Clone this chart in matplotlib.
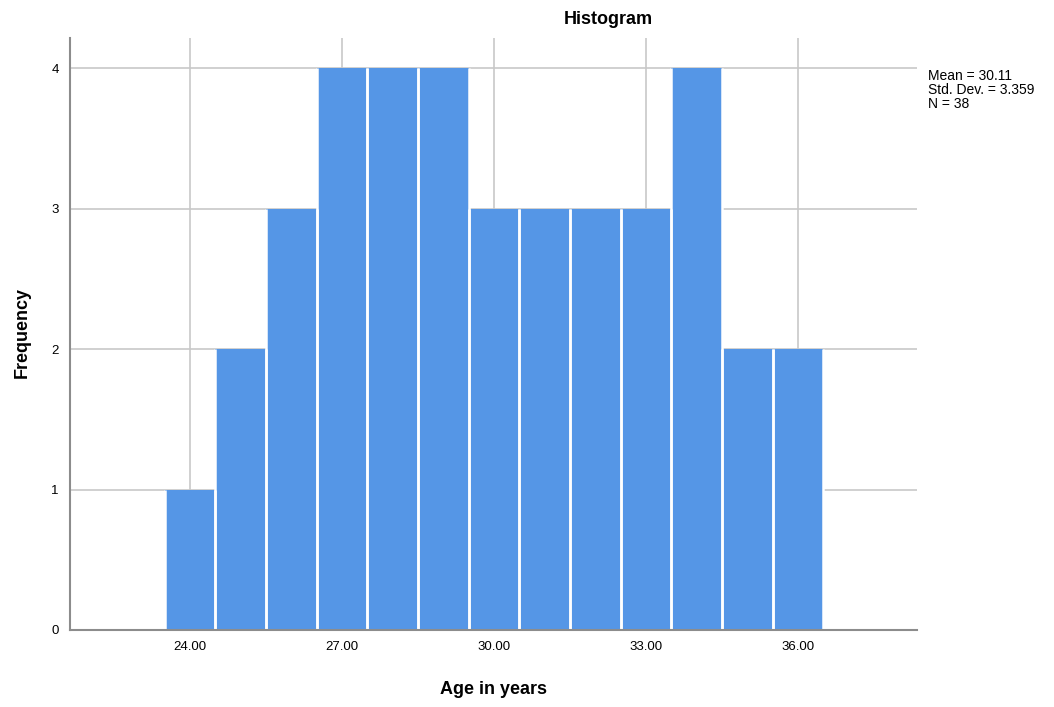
import numpy as np
import matplotlib.pyplot as plt

plt.rcParams['font.family'] = ['Liberation Sans', 'DejaVu Sans']

ages = [24, 25, 26, 27, 28, 29, 30, 31, 32, 33, 34, 35, 36]
counts = [1, 2, 3, 4, 4, 4, 3, 3, 3, 3, 4, 2, 2]
xticks = [24, 27, 30, 33, 36]
yticks = [0, 1, 2, 3, 4]
stats_text = "Mean = 30.11\nStd. Dev. = 3.359\nN = 38"

fig = plt.figure(figsize=(10.54, 7.07), dpi=100)
ax = fig.add_axes([70 / 1054, 1 - 630 / 707, 847 / 1054, 592 / 707])

ax.bar(ages, counts, width=1.0, color='#5596e6', linewidth=0, zorder=3)
# white separators between bars
for a, c in zip(ages, counts):
    ax.vlines([a - 0.5, a + 0.5], 0, c, colors='white', linewidth=1.8, zorder=4)

ax.set_xlim(21.63, 38.35)
ax.set_ylim(0, 4.214)
ax.set_xticks(xticks)
ax.set_xticklabels(["%.2f" % t for t in xticks], fontsize=9.5)
ax.set_yticks(yticks)
ax.set_yticklabels([str(t) for t in yticks], fontsize=9.5)
ax.tick_params(length=0, pad=8)
ax.grid(True, color='#c8c8c8', linewidth=1.2, zorder=0)
ax.set_axisbelow(True)

for s in ['top', 'right']:
    ax.spines[s].set_visible(False)
for s in ['left', 'bottom']:
    ax.spines[s].set_color('#8c8c8c')
    ax.spines[s].set_linewidth(1.5)
    ax.spines[s].set_zorder(5)

fig.text(608 / 1054, 1 - 20 / 707, "Histogram", ha='center', va='center', fontsize=13, fontweight='bold')
fig.text(22 / 1054, 1 - 333 / 707, "Frequency", ha='center', va='center', rotation=90, fontsize=13, fontweight='bold')
fig.text(493 / 1054, 1 - 690 / 707, "Age in years", ha='center', va='center', fontsize=13, fontweight='bold')
fig.text(928 / 1054, 1 - 69 / 707, stats_text, ha='left', va='top', fontsize=10, linespacing=1.0)

fig.savefig('out.png', dpi=100)
